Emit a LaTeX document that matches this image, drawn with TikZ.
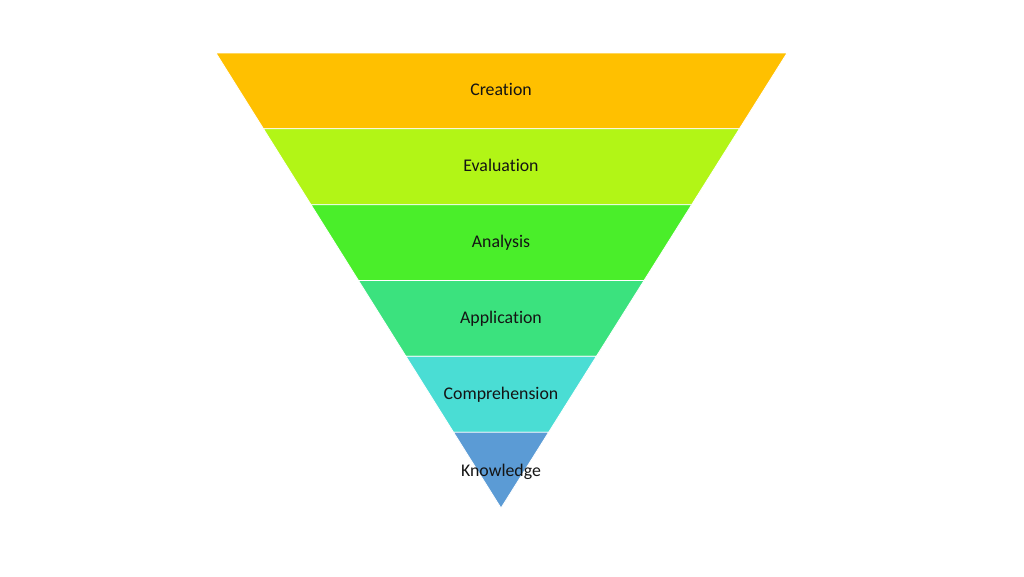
\documentclass[tikz,border=0pt]{standalone}
\usepackage{fontspec}
\setmainfont[Ligatures=NoCommon]{Carlito}
\usetikzlibrary{calc}
\definecolor{cCre}{RGB}{255,192,0}
\definecolor{cEva}{RGB}{178,245,22}
\definecolor{cAna}{RGB}{74,238,42}
\definecolor{cApp}{RGB}{59,226,126}
\definecolor{cCom}{RGB}{74,221,212}
\definecolor{cKno}{RGB}{91,155,213}
\definecolor{txt}{RGB}{20,20,20}
\tikzset{
  band/.style={fill=#1, draw=white, line width=0.8pt},
  lbl/.style={font=\fontsize{17.8}{21}\selectfont, text=txt, inner sep=0pt}
}
\begin{document}
\begin{tikzpicture}[x=1pt,y=-1pt]
\useasboundingbox (0,0) rectangle (1024,576);
\coordinate (L) at (216,53);
\coordinate (R) at (787,53);
\coordinate (A) at (501,508);
\foreach \k/\c in {0/cCre,1/cEva,2/cAna,3/cApp,4/cCom,5/cKno}{
  \pgfmathsetmacro{\ta}{\k/6}
  \pgfmathsetmacro{\tb}{(\k+1)/6}
  \fill[band=\c] ($(L)!\ta!(A)$) -- ($(R)!\ta!(A)$) -- ($(R)!\tb!(A)$) -- ($(L)!\tb!(A)$) -- cycle;
}
\node[lbl] (creation) at (501,89.5) {Creation};
\node[lbl] (evaluation) at (501,165.5) {Evaluation};
\node[lbl] (analysis) at (501,242.5) {Analysis};
\node[lbl] (application) at (501,318.5) {Application};
\node[lbl] (comprehension) at (501,394.5) {Comprehension};
\node[lbl] (knowledge) at (501,471.5) {Knowledge};
\end{tikzpicture}
\end{document}
